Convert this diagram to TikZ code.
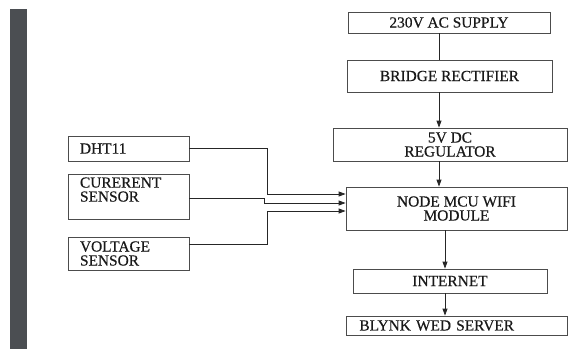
\documentclass[tikz,border=0pt]{standalone}
\usepackage{fontspec}
\setmainfont{Liberation Serif}[FakeBold=0.4]
\usetikzlibrary{arrows.meta}
\definecolor{barcol}{HTML}{4B4E52}

\begin{document}
\begin{tikzpicture}[x=1pt,y=1pt,yscale=-1,xscale=1,
  box/.style={draw=black!70, line width=0.8pt, inner sep=0pt, align=center, text=black!90, font=\fontsize{15.4}{14}\selectfont},
  sensor/.style={box, minimum width=121, text width=97, inner xsep=12, align=left},
  wire/.style={draw=black!85, line width=0.8pt},
  arr/.style={wire, -{Triangle[length=7pt,width=5pt]}}]
\useasboundingbox (0,0) rectangle (568,349);
\fill[barcol] (10,9) rectangle (27,349);
% Box Node
\draw (449,22.5) node [box, minimum width=202, minimum height=21] (supply) {230V AC SUPPLY};
% Box Node
\draw (449.5,76) node [box, minimum width=205, minimum height=32] (rect) {BRIDGE RECTIFIER};
% Box Node
\draw (450,144.5) node [box, minimum width=234, minimum height=33] (reg) {5V DC\\REGULATOR};
% Box Node
\draw (456.5,208.5) node [box, minimum width=221, minimum height=43] (mcu) {NODE MCU WIFI\\MODULE};
% Box Node
\draw (450,281) node [box, minimum width=194, minimum height=24] (inet) {INTERNET};
% Box Node
\draw (346,325.5) node [box, anchor=west, minimum width=221, minimum height=19, text width=195, inner xsep=13, align=left] (blynk) {BLYNK WED SERVER};
% Sensor Node
\draw (128.5,148.5) node [sensor, minimum height=25] (dht) {DHT11};
% Sensor Node
\draw (128.5,196.5) node [sensor, minimum height=45] (cur) {CURERENT\\SENSOR\\\mbox{}};
% Sensor Node
\draw (128.5,253.5) node [sensor, minimum height=33] (volt) {VOLTAGE\\SENSOR};
\coordinate (pwr) at (439,0);
\coordinate (net) at (445,0);
\coordinate (busA) at (267,194);
\coordinate (busB) at (264,203);
\coordinate (busC) at (267,211);
\draw[wire] (supply.south -| pwr) -- (rect.north -| pwr);
\draw[arr] (rect.south -| pwr) -- (reg.north -| pwr);
\draw[arr] (reg.south -| pwr) -- (mcu.north -| pwr);
\draw[arr] (mcu.south -| net) -- (inet.north -| net);
\draw[arr] (inet.south -| net) -- (blynk.north -| net);
\draw[arr] (dht.east) -| (busA) -- (busA -| mcu.west);
\draw[arr] ([yshift=1.5pt]cur.east) -| (busB) -- (busB -| mcu.west);
\draw[arr] ([yshift=-9.5pt]volt.east) -| (busC) -- (busC -| mcu.west);
\end{tikzpicture}
\end{document}
